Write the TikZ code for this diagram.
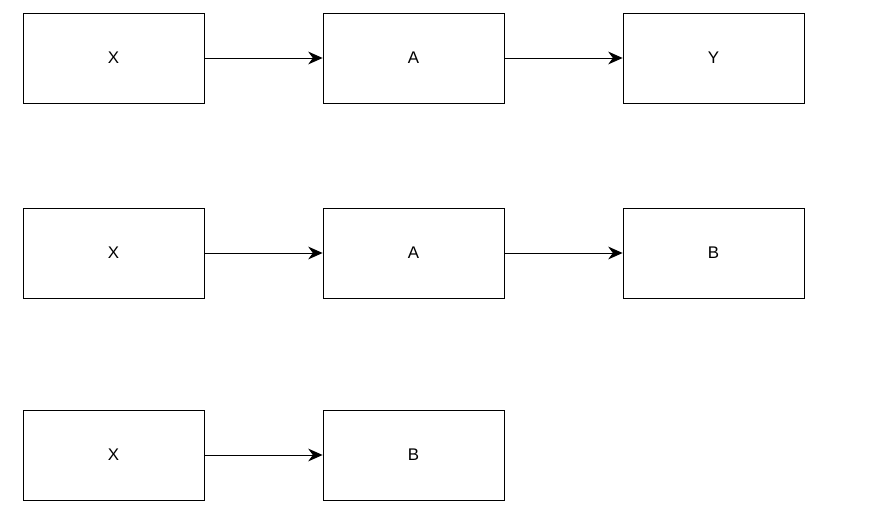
\documentclass[tikz,border=0pt]{standalone}
\usepackage{fontspec}
\setmainfont{Liberation Sans}
\usetikzlibrary{arrows.meta,positioning}
\begin{document}
\begin{tikzpicture}[box/.style={draw, semithick, rectangle, minimum width=4.525cm, minimum height=2.25cm, font=\fontsize{12}{14}\selectfont},
    >={Stealth[length=3.6mm,width=3.2mm]}]
            \useasboundingbox (0,0) rectangle (22.35,-13.175);
            % first row
            \node[box] (x1) at (2.8375,-1.45) {X};
            \node[box] (a1) at (10.3375,-1.45) {A};
            \node[box] (y1) at (17.8375,-1.45) {Y};

            % second row
            \node[box] (x2) at (2.8375,-6.325) {X};
            \node[box] (a2) at (10.3375,-6.325) {A};
            \node[box] (b2) at (17.8375,-6.325) {B};

            % third row
            \node[box] (x3) at (2.8375,-11.375) {X};
            \node[box] (b3) at (10.3375,-11.375) {B};

            % Links
            \draw[->, semithick] (x1.east) -- (a1.west);
            \draw[->, semithick] (a1.east) -- (y1.west);
            \draw[->, semithick] (x2.east) -- (a2.west);
            \draw[->, semithick] (a2.east) -- (b2.west);
            \draw[->, semithick] (x3.east) -- (b3.west);
\end{tikzpicture}
\end{document}
